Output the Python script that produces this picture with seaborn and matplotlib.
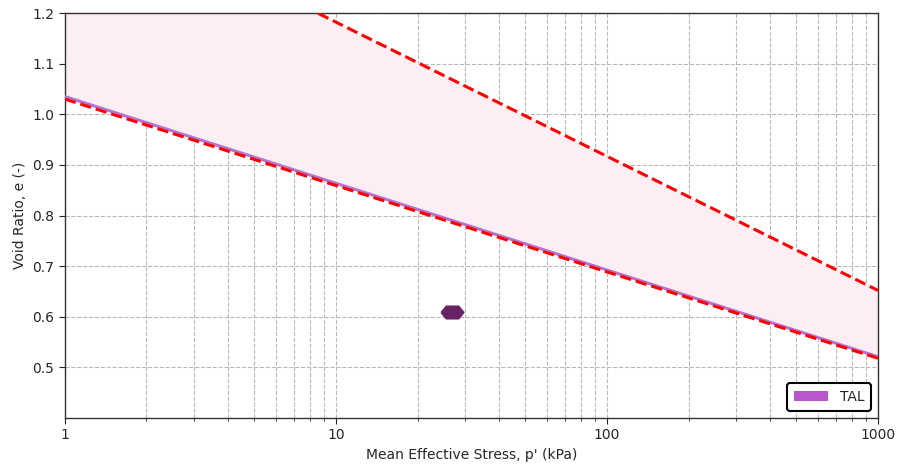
import numpy as np
import pandas as pd
import matplotlib
matplotlib.use("Agg")
import matplotlib.pyplot as plt
import seaborn as sns
from matplotlib.patches import Patch

# Data
p_line = [1, 1000]
e_upper = [1.447, 0.652]
e_lower = [1.030, 0.518]
e_tal = [1.035, 0.521]
p_point = [26.8]
e_point = [0.610]
legend_labels = ["TAL"]

sns.set_style("white")
plt.rcParams['font.family'] = ['DejaVu Sans']

fig = plt.figure(figsize=(9.01, 4.70), dpi=100)
ax = fig.add_axes([0.072, 0.1106, 0.9025, 0.8617])

ax.set_xscale("log")
ax.fill_between(p_line, e_tal, e_upper, color="#fdeef4", zorder=1, linewidth=0)

df_tal = pd.DataFrame({"p": p_line, "e": e_tal})
sns.lineplot(data=df_tal, x="p", y="e", ax=ax, color="#b574d0", linewidth=2.2, zorder=3)
df_up = pd.DataFrame({"p": p_line, "e": e_upper})
sns.lineplot(data=df_up, x="p", y="e", ax=ax, color="red", linewidth=2.2, linestyle="--", zorder=4)
df_lo = pd.DataFrame({"p": p_line, "e": e_lower})
sns.lineplot(data=df_lo, x="p", y="e", ax=ax, color="red", linewidth=2.2, linestyle="--", zorder=4)

hexv = [(-1, 0), (-0.55, 0.55), (0.55, 0.55), (1, 0), (0.55, -0.55), (-0.55, -0.55), (-1, 0)]
df_pt = pd.DataFrame({"p": p_point, "e": e_point})
sns.scatterplot(data=df_pt, x="p", y="e", ax=ax, marker=hexv, s=260, color="#6a2266",
                edgecolor="#6a2266", zorder=5)

ax.set_xlim(1, 1000)
ax.set_ylim(0.4, 1.2)
ax.set_yticks(np.arange(0.5, 1.21, 0.1))
ax.set_yticklabels([f"{v:.1f}" for v in np.arange(0.5, 1.21, 0.1)])
ax.set_xticks([1, 10, 100, 1000])
ax.set_xticklabels(["1", "10", "100", "1000"])
ax.grid(True, which="major", axis="both", linestyle="--", color="#b8b8b8", linewidth=0.8)
ax.grid(True, which="minor", axis="x", linestyle="--", color="#b8b8b8", linewidth=0.8)
ax.tick_params(axis="both", which="major", direction="out", length=4, width=0.8, labelsize=10, left=True, bottom=True)
ax.tick_params(axis="x", which="minor", length=2, bottom=True)
for s in ax.spines.values():
    s.set_color("#333333")
    s.set_linewidth(1.0)

ax.set_xlabel("Mean Effective Stress, p' (kPa)", fontsize=10)
ax.set_ylabel("Void Ratio, e (-)", fontsize=10)

handles = [Patch(facecolor="#bb55cc", edgecolor="none", label=legend_labels[0])]
leg = ax.legend(handles=handles, loc="lower right", fontsize=10, frameon=True, fancybox=True,
                borderpad=0.5, handlelength=2.5)
leg.get_frame().set_edgecolor("black")
leg.get_frame().set_linewidth(1.5)
leg.get_frame().set_alpha(1)

fig.savefig("out.png", dpi=100)
